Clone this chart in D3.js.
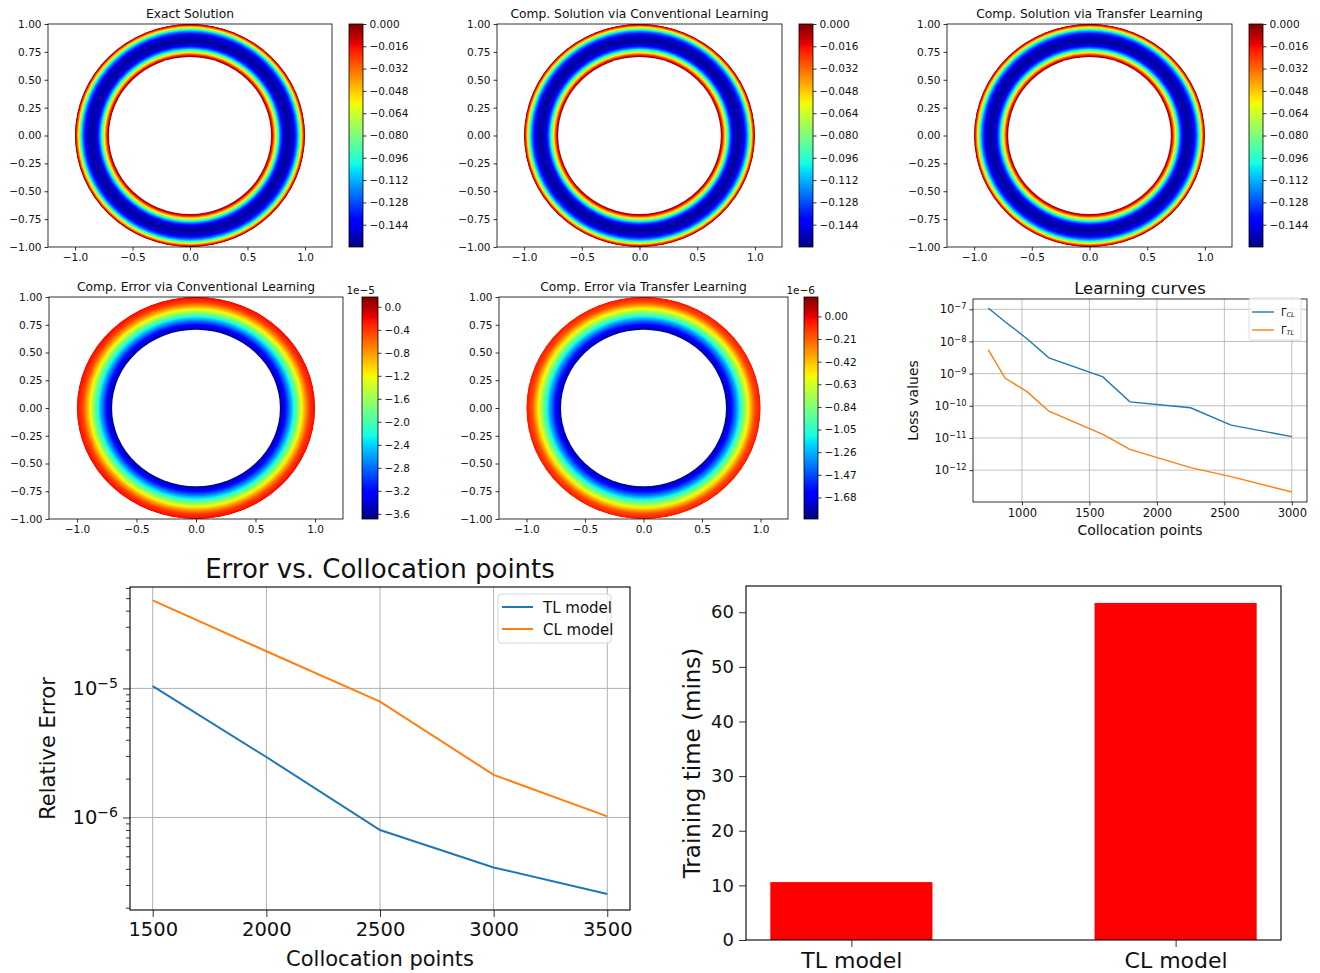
<!DOCTYPE html>
<html>
<head>
<meta charset="utf-8">
<script src="https://cdn.jsdelivr.net/npm/d3@7"></script>
<style>
body { margin: 0; background: #fff; }
svg { display: block; font-family: "DejaVu Sans", sans-serif; }
</style>
</head>
<body>
<script>
// radial profiles of the ring plots (radius -> value)
const solRadius = [0.70, 0.715, 0.725, 0.74, 0.76, 0.78, 0.80, 0.82, 0.855, 0.89, 0.91, 0.93, 0.95, 0.965, 0.98, 0.99, 1.00];
const solValue  = [0.0, -0.010, -0.025, -0.050, -0.085, -0.115, -0.138, -0.150, -0.156, -0.150, -0.140, -0.122, -0.095, -0.065, -0.035, -0.015, 0.0];
const errRadius  = [0.70, 0.75, 0.80, 0.85, 0.90, 0.95, 1.00];
const errClValue = [-3.66, -3.20, -2.55, -1.80, -1.05, -0.45, -0.20];   // x 1e-5
const errTlValue = [-1.86, -1.62, -1.30, -0.90, -0.52, -0.18, -0.05];   // x 1e-6

const solTicks   = [0, -0.016, -0.032, -0.048, -0.064, -0.080, -0.096, -0.112, -0.128, -0.144];
const errClTicks = [0, -0.4, -0.8, -1.2, -1.6, -2.0, -2.4, -2.8, -3.2, -3.6];
const errTlTicks = [0, -0.21, -0.42, -0.63, -0.84, -1.05, -1.26, -1.47, -1.68];
const ringXTicks = [-1, -0.5, 0, 0.5, 1];
const ringYTicks = [-1, -0.75, -0.5, -0.25, 0, 0.25, 0.5, 0.75, 1];

// learning curves
const lcPoints = [750, 875, 1040, 1200, 1600, 1800, 2250, 2550, 3000];
const lcCL = [1.1e-7, 4.1e-8, 1.2e-8, 3.1e-9, 7.9e-10, 1.33e-10, 8.7e-11, 2.5e-11, 1.1e-11];
const lcTL = [5.6e-9, 7.3e-10, 2.7e-10, 6.8e-11, 1.3e-11, 4.4e-12, 1.2e-12, 6.3e-13, 2.1e-13];
const lcXTicks = [1000, 1500, 2000, 2500, 3000];
const lcYTicks = [1e-7, 1e-8, 1e-9, 1e-10, 1e-11, 1e-12];

// error vs collocation points
const ecPoints = [1500, 2000, 2500, 3000, 3500];
const ecTL = [1.04e-5, 2.94e-6, 8.0e-7, 4.1e-7, 2.55e-7];
const ecCL = [4.8e-5, 1.94e-5, 7.9e-6, 2.14e-6, 1.02e-6];
const ecYTicks = [1e-5, 1e-6];
const ecMinor = [2e-7, 3e-7, 4e-7, 5e-7, 6e-7, 7e-7, 8e-7, 9e-7, 2e-6, 3e-6, 4e-6, 5e-6, 6e-6, 7e-6, 8e-6, 9e-6, 2e-5, 3e-5, 4e-5, 5e-5, 6e-5];

// training time
const models = ['TL model', 'CL model'];
const trainMins = [10.6, 61.7];
const timeTicks = [0, 10, 20, 30, 40, 50, 60];

const BLUE = '#1f77b4', ORANGE = '#ff7f0e';

// matplotlib "jet"
const jetR = d3.scaleLinear([0, 0.35, 0.66, 0.89, 1], [0, 0, 1, 1, 0.5]);
const jetG = d3.scaleLinear([0, 0.125, 0.375, 0.64, 0.91, 1], [0, 0, 1, 1, 0, 0]);
const jetB = d3.scaleLinear([0, 0.11, 0.34, 0.65, 1], [0.5, 1, 1, 0, 0]);
const jet = t => d3.rgb(255 * jetR(t), 255 * jetG(t), 255 * jetB(t)).formatHex();

const svg = d3.select('body').append('svg').attr('width', 1320).attr('height', 973);

const grad = svg.append('defs').append('linearGradient')
    .attr('id', 'jet').attr('x1', 0).attr('y1', 1).attr('x2', 0).attr('y2', 0);
grad.selectAll('stop').data(d3.range(0, 1.0001, 0.01)).join('stop')
    .attr('offset', d => d).attr('stop-color', d => jet(d));

function styleAxis(g, size) {
    g.attr('font-family', 'DejaVu Sans').attr('font-size', size);
    g.select('.domain').remove();
    g.selectAll('.tick line').attr('stroke', '#000').attr('stroke-width', 0.8);
    g.selectAll('.tick text').attr('fill', '#111');
}

function sciLabels(g, size) {
    g.selectAll('.tick text').each(function (d) {
        const t = d3.select(this).text('');
        t.append('tspan').text('10');
        t.append('tspan').attr('dy', '-0.5em').attr('font-size', size * 0.72)
            .text(d3.format('d')(Math.round(Math.log10(d))));
    });
}

function frame(x0, x1, y0, y1, w) {
    svg.append('rect').attr('x', x0).attr('y', y0).attr('width', x1 - x0).attr('height', y1 - y0)
        .attr('fill', 'none').attr('stroke', '#000').attr('stroke-width', w || 0.8);
}

// ---------- ring panels ----------
const ringPanels = [
    { title: 'Exact Solution', ax: [48, 332, 24, 247], cb: [349, 363], r: solRadius, v: solValue, dom: [-0.16, 0], ticks: solTicks, fmt: '.3f' },
    { title: 'Comp. Solution via Conventional Learning', ax: [497, 782, 24, 247], cb: [799, 813], r: solRadius, v: solValue, dom: [-0.16, 0], ticks: solTicks, fmt: '.3f' },
    { title: 'Comp. Solution via Transfer Learning', ax: [947, 1232, 24, 247], cb: [1249, 1263], r: solRadius, v: solValue, dom: [-0.16, 0], ticks: solTicks, fmt: '.3f' },
    { title: 'Comp. Error via Conventional Learning', ax: [49, 343, 297, 519], cb: [362, 378], r: errRadius, v: errClValue, dom: [-3.69, 0.17], ticks: errClTicks, fmt: '.1f', offset: '1e\u22125' },
    { title: 'Comp. Error via Transfer Learning', ax: [499, 788, 297, 519], cb: [804, 818], r: errRadius, v: errTlValue, dom: [-1.88, 0.18], ticks: errTlTicks, fmt: '.2f', offset: '1e\u22126' }
];

ringPanels.forEach(p => {
    const [x0, x1, y0, y1] = p.ax;
    const x = d3.scaleLinear([-1.235, 1.235], [x0, x1]);
    const y = d3.scaleLinear([-1, 1], [y1, y0]);
    const profile = d3.scaleLinear(p.r, p.v).clamp(true);
    const norm = d3.scaleLinear(p.dom, [0, 1]).clamp(true);

    const inner = 0.705, n = 140;
    const radii = d3.range(n).map(i => 1 - i * (1 - inner) / n);
    const g = svg.append('g');
    g.selectAll('ellipse.band').data(radii).join('ellipse')
        .attr('cx', x(0)).attr('cy', y(0))
        .attr('rx', r => x(r) - x(0)).attr('ry', r => y(0) - y(r))
        .attr('fill', r => jet(norm(profile(r - (1 - inner) / n / 2))));
    g.append('ellipse').attr('cx', x(0)).attr('cy', y(0))
        .attr('rx', x(inner) - x(0)).attr('ry', y(0) - y(inner)).attr('fill', '#fff');

    frame(x0, x1, y0, y1);

    const gx = svg.append('g').attr('transform', `translate(0,${y1})`)
        .call(d3.axisBottom(x).tickValues(ringXTicks).tickFormat(d3.format('.1f')).tickSize(3.5).tickPadding(3));
    styleAxis(gx, 10.5);
    const gy = svg.append('g').attr('transform', `translate(${x0},0)`)
        .call(d3.axisLeft(y).tickValues(ringYTicks).tickFormat(d3.format('.2f')).tickSize(3.5).tickPadding(3));
    styleAxis(gy, 10.5);

    svg.append('text').attr('x', (x0 + x1) / 2).attr('y', y0 - 6)
        .attr('text-anchor', 'middle').attr('font-size', 12.3).attr('fill', '#111').text(p.title);

    // colorbar
    const [c0, c1] = p.cb;
    svg.append('rect').attr('x', c0).attr('y', y0).attr('width', c1 - c0).attr('height', y1 - y0)
        .attr('fill', 'url(#jet)');
    frame(c0, c1, y0, y1);
    const cy = d3.scaleLinear(p.dom, [y1, y0]);
    const gc = svg.append('g').attr('transform', `translate(${c1},0)`)
        .call(d3.axisRight(cy).tickValues(p.ticks).tickFormat(d3.format(p.fmt)).tickSize(3.5).tickPadding(3));
    styleAxis(gc, 10.5);
    if (p.offset) {
        svg.append('text').attr('x', c1 - 3).attr('y', y0 - 3).attr('text-anchor', 'end')
            .attr('font-size', 10.5).attr('fill', '#111').text(p.offset);
    }
});

// ---------- learning curves ----------
{
    const [x0, x1, y0, y1] = [973, 1307, 299, 502];
    const x = d3.scaleLinear([637.5, 3112.5], [x0, x1]);
    const y = d3.scaleLog([Math.pow(10, -12.99), Math.pow(10, -6.68)], [y1, y0]);

    const grid = svg.append('g').attr('stroke', '#b0b0b0').attr('stroke-width', 0.8);
    grid.selectAll('line.gx').data(lcXTicks).join('line')
        .attr('x1', d => x(d)).attr('x2', d => x(d)).attr('y1', y0).attr('y2', y1);
    grid.selectAll('line.gy').data(lcYTicks).join('line')
        .attr('y1', d => y(d)).attr('y2', d => y(d)).attr('x1', x0).attr('x2', x1);

    const line = vals => d3.line().x((d, i) => x(lcPoints[i])).y(d => y(d))(vals);
    svg.append('path').attr('d', line(lcCL)).attr('fill', 'none').attr('stroke', BLUE).attr('stroke-width', 1.4);
    svg.append('path').attr('d', line(lcTL)).attr('fill', 'none').attr('stroke', ORANGE).attr('stroke-width', 1.4);

    frame(x0, x1, y0, y1);
    const gx = svg.append('g').attr('transform', `translate(0,${y1})`)
        .call(d3.axisBottom(x).tickValues(lcXTicks).tickFormat(d3.format('d')).tickSize(3.5).tickPadding(3));
    styleAxis(gx, 11.5);
    const gy = svg.append('g').attr('transform', `translate(${x0},0)`)
        .call(d3.axisLeft(y).tickValues(lcYTicks).tickSize(3.5).tickPadding(3));
    styleAxis(gy, 11.5);
    sciLabels(gy, 11.5);

    svg.append('text').attr('x', (x0 + x1) / 2).attr('y', 294).attr('text-anchor', 'middle')
        .attr('font-size', 16.5).attr('fill', '#111').text('Learning curves');
    svg.append('text').attr('x', (x0 + x1) / 2).attr('y', 535).attr('text-anchor', 'middle')
        .attr('font-size', 14).attr('fill', '#111').text('Collocation points');
    svg.append('text').attr('transform', `translate(918,${(y0 + y1) / 2}) rotate(-90)`)
        .attr('text-anchor', 'middle').attr('font-size', 14).attr('fill', '#111').text('Loss values');

    // legend
    const lg = svg.append('g');
    lg.append('rect').attr('x', 1249).attr('y', 298).attr('width', 52).attr('height', 42).attr('rx', 2)
        .attr('fill', '#fff').attr('fill-opacity', 0.8).attr('stroke', '#d6d6d6').attr('stroke-width', 0.8);
    [['CL', BLUE], ['TL', ORANGE]].forEach(([s, c], i) => {
        const yy = 312 + i * 18;
        lg.append('line').attr('x1', 1252).attr('x2', 1274).attr('y1', yy).attr('y2', yy)
            .attr('stroke', c).attr('stroke-width', 1.4);
        const t = lg.append('text').attr('x', 1281).attr('y', yy + 3.5).attr('font-size', 10).attr('fill', '#111');
        t.append('tspan').text('\u0393');
        t.append('tspan').attr('dy', '0.25em').attr('font-size', 6.5).attr('font-style', 'italic').text(s);
    });
}

// ---------- error vs collocation points ----------
{
    const [x0, x1, y0, y1] = [130, 630, 587, 910];
    const x = d3.scaleLinear([1400, 3600], [x0, x1]);
    const y = d3.scaleLog([1.92e-7, 6.1e-5], [y1, y0]);

    const grid = svg.append('g').attr('stroke', '#b0b0b0').attr('stroke-width', 1);
    grid.selectAll('line.gx').data(ecPoints).join('line')
        .attr('x1', d => x(d)).attr('x2', d => x(d)).attr('y1', y0).attr('y2', y1);
    grid.selectAll('line.gy').data(ecYTicks).join('line')
        .attr('y1', d => y(d)).attr('y2', d => y(d)).attr('x1', x0).attr('x2', x1);

    const line = vals => d3.line().x((d, i) => x(ecPoints[i])).y(d => y(d))(vals);
    svg.append('path').attr('d', line(ecTL)).attr('fill', 'none').attr('stroke', BLUE).attr('stroke-width', 2);
    svg.append('path').attr('d', line(ecCL)).attr('fill', 'none').attr('stroke', ORANGE).attr('stroke-width', 2);

    frame(x0, x1, y0, y1, 1.1);
    const gx = svg.append('g').attr('transform', `translate(0,${y1})`)
        .call(d3.axisBottom(x).tickValues(ecPoints).tickFormat(d3.format('d')).tickSize(7).tickPadding(5));
    styleAxis(gx, 19.5);
    const gm = svg.append('g').attr('transform', `translate(${x0},0)`)
        .call(d3.axisLeft(y).tickValues(ecMinor).tickFormat('').tickSize(4));
    styleAxis(gm, 10);
    const gy = svg.append('g').attr('transform', `translate(${x0},0)`)
        .call(d3.axisLeft(y).tickValues(ecYTicks).tickSize(7).tickPadding(5));
    styleAxis(gy, 19.5);
    sciLabels(gy, 19.5);

    svg.append('text').attr('x', (x0 + x1) / 2).attr('y', 578).attr('text-anchor', 'middle')
        .attr('font-size', 26).attr('fill', '#111').text('Error vs. Collocation points');
    svg.append('text').attr('x', (x0 + x1) / 2).attr('y', 966).attr('text-anchor', 'middle')
        .attr('font-size', 21).attr('fill', '#111').text('Collocation points');
    svg.append('text').attr('transform', `translate(55,${(y0 + y1) / 2}) rotate(-90)`)
        .attr('text-anchor', 'middle').attr('font-size', 21).attr('fill', '#111').text('Relative Error');

    const lg = svg.append('g');
    lg.append('rect').attr('x', 498).attr('y', 594).attr('width', 113).attr('height', 49).attr('rx', 3)
        .attr('fill', '#fff').attr('fill-opacity', 0.8).attr('stroke', '#d6d6d6').attr('stroke-width', 1);
    [['TL model', BLUE], ['CL model', ORANGE]].forEach(([s, c], i) => {
        const yy = 607 + i * 22;
        lg.append('line').attr('x1', 502).attr('x2', 533).attr('y1', yy).attr('y2', yy)
            .attr('stroke', c).attr('stroke-width', 2);
        lg.append('text').attr('x', 543).attr('y', yy + 5.5).attr('font-size', 15).attr('fill', '#111').text(s);
    });
}

// ---------- training time ----------
{
    const [x0, x1, y0, y1] = [746, 1281, 586, 940];
    const x = d3.scaleLinear([-0.325, 1.325], [x0, x1]);
    const y = d3.scaleLinear([0, 64.8], [y1, y0]);

    svg.selectAll('rect.bar').data(trainMins).join('rect').attr('class', 'bar')
        .attr('x', (d, i) => x(i - 0.25)).attr('width', x(0.5) - x(0))
        .attr('y', d => y(d)).attr('height', d => y(0) - y(d)).attr('fill', '#ff0000');

    frame(x0, x1, y0, y1, 1.1);
    const gx = svg.append('g').attr('transform', `translate(0,${y1})`)
        .call(d3.axisBottom(x).tickValues([0, 1]).tickFormat(i => models[i]).tickSize(7).tickPadding(5));
    styleAxis(gx, 22);
    const gy = svg.append('g').attr('transform', `translate(${x0},0)`)
        .call(d3.axisLeft(y).tickValues(timeTicks).tickFormat(d3.format('d')).tickSize(7).tickPadding(5));
    styleAxis(gy, 18);

    svg.append('text').attr('transform', `translate(700,${(y0 + y1) / 2}) rotate(-90)`)
        .attr('text-anchor', 'middle').attr('font-size', 23).attr('fill', '#111').text('Training time (mins)');
}
</script>
</body>
</html>
